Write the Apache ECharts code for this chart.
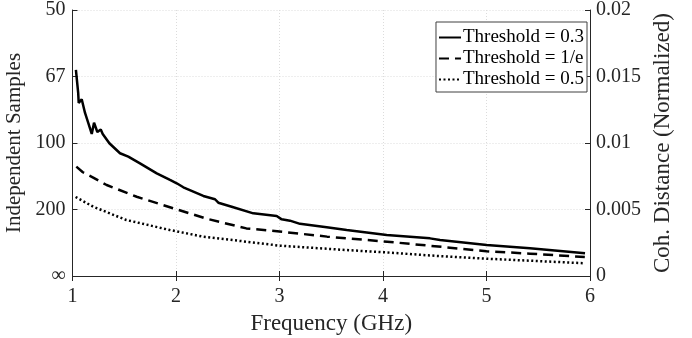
<!DOCTYPE html>
<html><head><meta charset="utf-8">
<script src="https://cdn.jsdelivr.net/npm/echarts@6/dist/echarts.min.js"></script>
<style>html,body{margin:0;padding:0;background:#fff}#c{width:692px;height:338px}</style>
</head><body><div id="c"></div>
<script>
// Frequency (GHz) and normalized coherence distance
const freq03 = [1.033,1.055,1.060,1.089,1.121,1.153,1.186,1.208,1.240,1.273,1.292,1.356,1.459,1.539,1.652,1.814,1.942,2.007,2.071,2.264,2.377,2.409,2.538,2.747,2.973,3.021,3.101,3.198,3.456,3.649,4.036,4.454,4.551,5.002,5.420,5.952];
const coh03  = [0.01549,0.01376,0.01301,0.01329,0.01226,0.01150,0.01068,0.01153,0.01083,0.01101,0.01068,0.00998,0.00923,0.00897,0.00847,0.00772,0.00722,0.00697,0.00667,0.00602,0.00577,0.00551,0.00521,0.00471,0.00451,0.00426,0.00416,0.00392,0.00366,0.00346,0.00308,0.00283,0.00271,0.00233,0.00208,0.00171];
const freqE  = [1.037,1.10,1.20,1.33,1.62,1.99,2.30,2.68,3.00,3.46,3.65,4.04,4.50,5.00,5.42,5.95];
const cohE   = [0.00822,0.00780,0.00740,0.00684,0.00596,0.00505,0.00430,0.00358,0.00335,0.00296,0.00283,0.00258,0.00224,0.00186,0.00168,0.00143];
const freq05 = [1.03,1.20,1.52,1.94,2.26,2.68,3.00,3.65,4.04,4.50,5.00,5.50,5.95];
const coh05  = [0.00594,0.00521,0.00421,0.00346,0.00296,0.00258,0.00228,0.00195,0.00177,0.00152,0.00130,0.00112,0.00096];
const seriesNames = ['Threshold = 0.3','Threshold = 1/e','Threshold = 0.5'];
const cohTicks = [0, 0.005, 0.01, 0.015, 0.02];
const sampleTickLabels = ['\u221e','200','100','67','50'];

const font = "'Liberation Serif','Times New Roman',serif";
const txt = '#262626';
const pair = (xs, ys) => xs.map((x, i) => [x, ys[i]]);
const chart = echarts.init(document.getElementById('c'), null, {renderer:'canvas'});
const gridLine = {show:true, lineStyle:{color:'#dcdcdc', type:[1,2], width:1}};
chart.setOption({
  animation:false,
  grid:{left:72.5, right:102, top:10, bottom:62, containLabel:false, outerBoundsMode:'none'},
  legend:{
    orient:'vertical', right:105, top:22, itemWidth:22, itemHeight:12, itemGap:2,
    padding:[6,3,3,2], borderColor:'#404040', borderWidth:1, backgroundColor:'#fff',
    textStyle:{fontFamily:font, fontSize:19, color:'#000', padding:[0,0,0,-3]},
    itemStyle:{color:'rgba(0,0,0,0)', borderWidth:0, borderColor:'rgba(0,0,0,0)', opacity:0},
    data:seriesNames
  },
  xAxis:[{
    type:'value', min:1, max:6, interval:1, position:'bottom',
    name:'Frequency (GHz)', nameLocation:'middle', nameGap:36,
    nameTextStyle:{fontFamily:font, fontSize:23, color:txt},
    axisLine:{lineStyle:{color:txt, width:1}},
    axisTick:{inside:true, length:5, lineStyle:{color:txt}},
    axisLabel:{fontFamily:font, fontSize:20, color:txt, margin:11},
    splitLine:gridLine
  },{
    type:'value', min:1, max:6, interval:1, position:'top',
    axisLine:{lineStyle:{color:txt, width:1}},
    axisTick:{inside:true, length:5, lineStyle:{color:txt}},
    axisLabel:{show:false}, splitLine:{show:false}
  }],
  yAxis:[{
    type:'value', min:0, max:0.02, interval:0.005, position:'left',
    name:'Independent Samples', nameLocation:'middle', nameGap:41,
    nameTextStyle:{fontFamily:font, fontSize:21, color:txt},
    axisLine:{show:true, lineStyle:{color:txt, width:1}},
    axisTick:{show:true, inside:true, length:5, lineStyle:{color:txt}},
    axisLabel:{fontFamily:font, fontSize:20, color:txt, margin:7,
      formatter:(v)=>{const i = cohTicks.findIndex(t=>Math.abs(t-v)<1e-9); return i>=0 ? sampleTickLabels[i] : '';}},
    splitLine:gridLine
  },{
    type:'value', min:0, max:0.02, interval:0.005, position:'right',
    name:'Coh. Distance (Normalized)', nameLocation:'middle', nameGap:61,
    nameRotate:90,
    nameTextStyle:{fontFamily:font, fontSize:23, color:txt},
    axisLine:{show:true, lineStyle:{color:txt, width:1}},
    axisTick:{show:true, inside:true, length:5, lineStyle:{color:txt}},
    axisLabel:{fontFamily:font, fontSize:20, color:txt, margin:6,
      formatter:(v)=>String(+v.toFixed(3))},
    splitLine:{show:false}
  }],
  series:[
    {name:seriesNames[0], type:'line', yAxisIndex:1, showSymbol:false, symbol:'none', data:pair(freq03, coh03),
     lineStyle:{color:'#000', width:2.5, type:'solid'}, itemStyle:{color:'#000'}},
    {name:seriesNames[1], type:'line', yAxisIndex:1, showSymbol:false, symbol:'none', data:pair(freqE, cohE),
     lineStyle:{color:'#000', width:2.5, type:[10,6]}, itemStyle:{color:'#000'}},
    {name:seriesNames[2], type:'line', yAxisIndex:1, showSymbol:false, symbol:'none', data:pair(freq05, coh05),
     lineStyle:{color:'#000', width:2.5, type:[2,2.5]}, itemStyle:{color:'#000'}}
  ]
});
</script></body></html>
